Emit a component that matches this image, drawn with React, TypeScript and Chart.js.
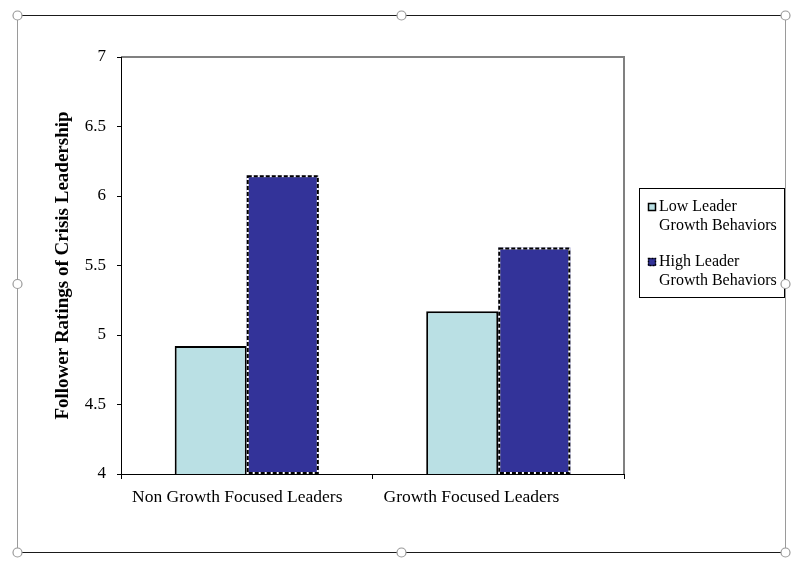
import React, { useEffect, useRef } from "react";
import { Chart, registerables } from "chart.js";

Chart.register(...registerables);

const categories = ["Non Growth Focused Leaders", "Growth Focused Leaders"];
const lowLeaderValues = [4.92, 5.17];
const highLeaderValues = [6.15, 5.63];
const seriesLabels = [["Low Leader", "Growth Behaviors"], ["High Leader", "Growth Behaviors"]];
const yAxisTitle = "Follower Ratings of Crisis Leadership";
const yMin = 4;
const yMax = 7;
const yStep = 0.5;

const LOW_COLOR = "#BAE0E4";
const HIGH_COLOR = "#333399";
const SERIF = "'Liberation Serif', 'Times New Roman', serif";

const decorPlugin = {
  id: "decor",
  afterDatasetsDraw(chart: any) {
    const ctx = chart.ctx;
    const area = chart.chartArea;
    // dashed borders on high series bars
    const meta = chart.getDatasetMeta(1);
    ctx.save();
    meta.data.forEach((bar: any) => {
      const p = bar.getProps(["x", "y", "base", "width"], true);
      const l = p.x - p.width / 2 + 1;
      const r = p.x + p.width / 2 - 1;
      const t = p.y + 1;
      const b = Math.min(p.base, area.bottom) - 1;
      ctx.lineWidth = 2;
      ctx.setLineDash([]);
      ctx.strokeStyle = "#ffffff";
      ctx.strokeRect(l, t, r - l, b - t);
      ctx.setLineDash([4, 2]);
      ctx.strokeStyle = "#000000";
      ctx.strokeRect(l, t, r - l, b - t);
    });
    ctx.restore();
    // plot area top/right gray border
    ctx.save();
    ctx.strokeStyle = "#808080";
    ctx.lineWidth = 2;
    ctx.beginPath();
    ctx.moveTo(area.left, area.top);
    ctx.lineTo(area.right, area.top);
    ctx.lineTo(area.right, area.bottom);
    ctx.stroke();
    ctx.restore();
    // redraw axis lines on top
    ctx.save();
    ctx.strokeStyle = "#000000";
    ctx.lineWidth = 1;
    ctx.beginPath();
    ctx.moveTo(area.left + 0.5, area.top);
    ctx.lineTo(area.left + 0.5, area.bottom + 0.5);
    ctx.lineTo(area.right, area.bottom + 0.5);
    ctx.stroke();
    ctx.restore();
    // category labels (left-aligned within each category slot)
    const xs = chart.scales.x;
    const n = categories.length;
    const slot = (area.right - area.left) / n;
    ctx.save();
    ctx.font = `17.5px ${SERIF}`;
    ctx.fillStyle = "#000";
    ctx.textAlign = "left";
    ctx.textBaseline = "middle";
    categories.forEach((c, i) => {
      const cx = xs.getPixelForValue(i) - slot / 2 + 11;
      ctx.fillText(c, cx, area.bottom + 23);
    });
    ctx.restore();
  },
  afterDraw(chart: any) {
    const ctx = chart.ctx;
    const area = chart.chartArea;
    // legend
    const lx = area.right + 15;
    const ly = 188;
    const lw = 146;
    const lh = 110;
    ctx.save();
    ctx.fillStyle = "#ffffff";
    ctx.fillRect(lx, ly, lw, lh);
    ctx.strokeStyle = "#000000";
    ctx.lineWidth = 1;
    ctx.strokeRect(lx + 0.5, ly + 0.5, lw - 1, lh - 1);
    ctx.font = `16px ${SERIF}`;
    ctx.textBaseline = "middle";
    ctx.textAlign = "left";
    const colors = [LOW_COLOR, HIGH_COLOR];
    seriesLabels.forEach((lines, i) => {
      const y0 = ly + 19 + i * 55;
      const mx = lx + 9;
      const my = y0 - 4;
      ctx.fillStyle = colors[i];
      ctx.fillRect(mx, my, 8, 8);
      ctx.lineWidth = 1.5;
      ctx.strokeStyle = "#000";
      if (i === 1) ctx.setLineDash([2, 1]);
      ctx.strokeRect(mx + 0.5, my + 0.5, 7, 7);
      ctx.setLineDash([]);
      ctx.fillStyle = "#000";
      lines.forEach((line, j) => {
        ctx.fillText(line, lx + 20, y0 + j * 19);
      });
    });
    ctx.restore();
    // selection frame
    const L = 17, T = 15, R = 785, B = 552;
    ctx.save();
    ctx.lineWidth = 1;
    ctx.strokeStyle = "#1a1a1a";
    ctx.beginPath();
    ctx.moveTo(L, T + 0.5);
    ctx.lineTo(R, T + 0.5);
    ctx.moveTo(L, B + 0.5);
    ctx.lineTo(R, B + 0.5);
    ctx.stroke();
    ctx.strokeStyle = "#9a9a9a";
    ctx.beginPath();
    ctx.moveTo(L + 0.5, T);
    ctx.lineTo(L + 0.5, B);
    ctx.moveTo(R + 0.5, T);
    ctx.lineTo(R + 0.5, B);
    ctx.stroke();
    const mx = (L + R) / 2;
    const my = (T + B) / 2;
    const handles = [
      [L, T], [mx, T], [R, T],
      [L, my], [R, my],
      [L, B], [mx, B], [R, B],
    ];
    handles.forEach(([hx, hy]) => {
      ctx.beginPath();
      ctx.arc(hx + 0.5, hy + 0.5, 4.5, 0, Math.PI * 2);
      ctx.fillStyle = "#ffffff";
      ctx.fill();
      ctx.lineWidth = 1.2;
      ctx.strokeStyle = "#999999";
      ctx.stroke();
    });
    ctx.restore();
  },
};

export default function App() {
  const ref = useRef<HTMLCanvasElement | null>(null);
  useEffect(() => {
    if (!ref.current) return;
    const chart = new Chart(ref.current, {
      type: "bar",
      data: {
        labels: categories,
        datasets: [
          {
            label: seriesLabels[0].join(" "),
            data: lowLeaderValues,
            backgroundColor: LOW_COLOR,
            borderColor: "#000000",
            borderWidth: 2,
            borderSkipped: false,
          },
          {
            label: seriesLabels[1].join(" "),
            data: highLeaderValues,
            backgroundColor: HIGH_COLOR,
            borderWidth: 0,
          },
        ],
      },
      options: {
        responsive: false,
        animation: false,
        devicePixelRatio: 1,
        datasets: { bar: { categoryPercentage: 0.573, barPercentage: 1.0 } },
        layout: { padding: { left: 50, right: 174, top: 57, bottom: 50 } },
        plugins: {
          legend: { display: false },
          tooltip: { enabled: false },
        },
        scales: {
          x: {
            afterFit: (s: any) => { s.height = 40; },
            grid: {
              display: true,
              drawOnChartArea: false,
              drawTicks: true,
              tickLength: 5,
              color: "#000000",
              offset: true,
            },
            border: { display: true, color: "#000000", width: 1 },
            ticks: { display: false },
          },
          y: {
            min: yMin,
            max: yMax,
            afterFit: (s: any) => { s.width = 71; },
            grid: {
              display: true,
              drawOnChartArea: false,
              drawTicks: true,
              tickLength: 4,
              color: "#000000",
            },
            border: { display: true, color: "#000000", width: 1 },
            ticks: {
              stepSize: yStep,
              color: "#000000",
              padding: 11,
              font: { family: SERIF, size: 17 },
              callback: (v: any) => String(v),
            },
            title: {
              display: true,
              text: yAxisTitle,
              color: "#000000",
              font: { family: SERIF, size: 19, weight: "bold" },
              padding: { top: 2, bottom: 0 },
            },
          },
        },
      },
      plugins: [decorPlugin],
    });
    return () => chart.destroy();
  }, []);
  return (
    <div style={{ position: "absolute", left: 0, top: 0, width: 798, height: 564, background: "#fff" }}>
      <canvas ref={ref} width={798} height={564} style={{ display: "block" }} />
    </div>
  );
}
